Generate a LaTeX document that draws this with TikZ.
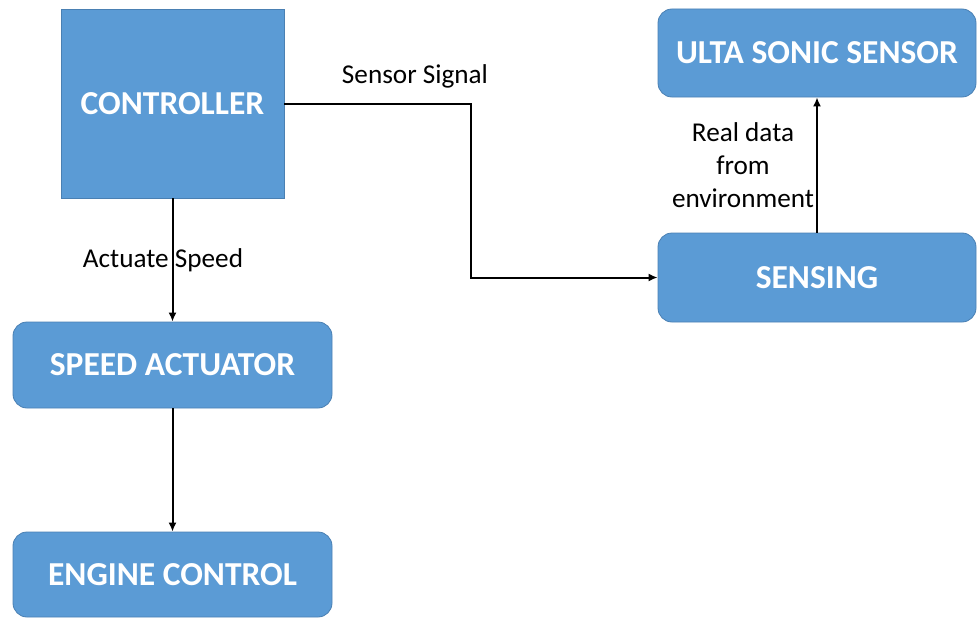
\documentclass[tikz,border=0pt]{standalone}
\usepackage{fontspec}
\setmainfont{Carlito}
\usetikzlibrary{arrows.meta}
\definecolor{boxblue}{HTML}{5B9BD5}
\definecolor{boxedge}{HTML}{4A80B3}
\begin{document}
\begin{tikzpicture}[x=1pt,y=-1pt,
  box/.style={draw=boxedge, fill=boxblue, line width=0.8pt, text=white,
    font=\bfseries\fontsize{33.5}{38}\selectfont, inner sep=0pt},
  rbox/.style={box, rounded corners=14pt},
  conn/.style={line width=2pt, -{Latex[length=9pt,width=8pt]}},
  lbl/.style={font=\fontsize{27.2}{33}\selectfont, align=center, inner sep=0pt}]
\useasboundingbox (0,0) rectangle (977,618);
\node[box, minimum width=223pt, minimum height=189pt] (ctrl) at (172.5,103.5) {CONTROLLER};
\node[rbox, minimum width=319pt, minimum height=86pt] (sa) at (172.5,365) {SPEED ACTUATOR};
\node[rbox, minimum width=319pt, minimum height=85pt] (ec) at (172.5,574.5) {ENGINE CONTROL};
\node[rbox, minimum width=318pt, minimum height=88pt] (us) at (817,53) {ULTA SONIC SENSOR};
\node[rbox, minimum width=318pt, minimum height=89pt] (sens) at (817,277.5) {SENSING};
\coordinate (bend) at (471,0);
\draw[conn] (ctrl.south) -- (sa.north);
\draw[conn] (sa.south) -- (ec.north);
\draw[conn] (ctrl.east) -- (ctrl.east -| bend) |- (sens.west);
\draw[conn] (sens.north) -- (us.south);
\node[lbl] (l1) at (415,76) {Sensor Signal};
\node[lbl] (l2) at (163,260) {Actuate Speed};
\node[lbl] (l3) at (743,165) {Real data\\from\\environment};
\end{tikzpicture}
\end{document}
